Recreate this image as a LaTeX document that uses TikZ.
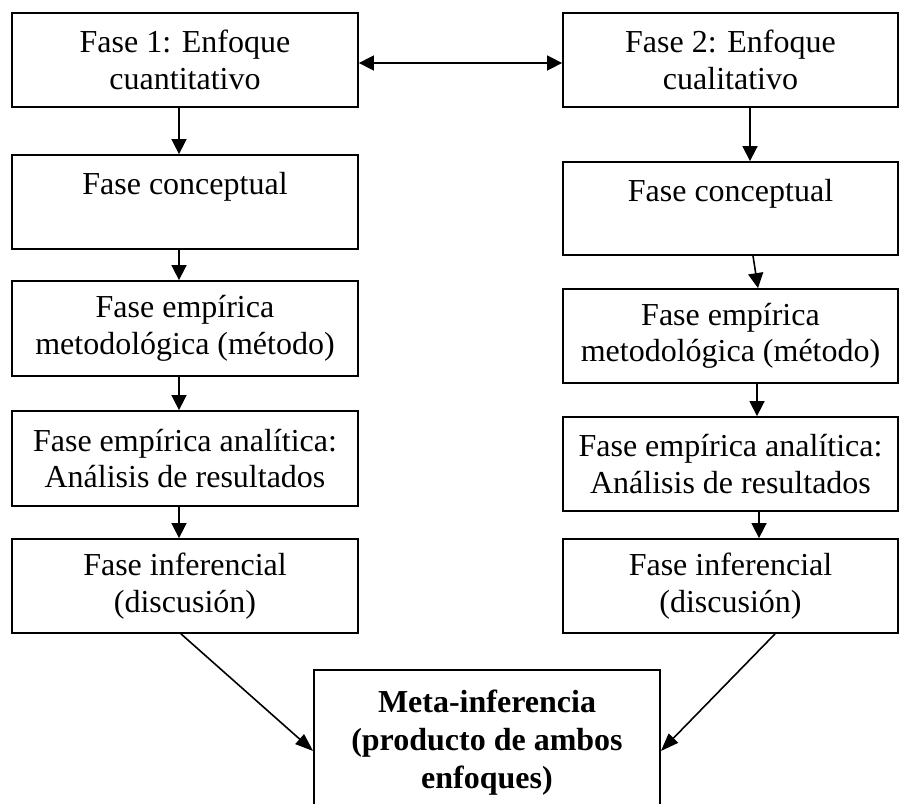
\documentclass[tikz,border=0pt]{standalone}
\usepackage{fontspec}
\setmainfont{Liberation Serif}
\usetikzlibrary{arrows.meta}
\begin{document}
\begin{tikzpicture}[x=1pt,y=-1pt,
  stage/.style={draw, line width=1.8pt, align=center, inner sep=0pt,
    font=\fontsize{32}{36.5}\selectfont},
  leftcol/.style={stage, minimum width=346pt},
  rightcol/.style={stage, minimum width=335pt},
  flow/.style={line width=1.6pt, -{Triangle[length=15pt,width=15pt]}},
  both/.style={line width=1.6pt, {Triangle[length=15pt,width=15pt]}-{Triangle[length=15pt,width=15pt]}},
  merge/.style={line width=1.6pt, -{Triangle[length=18pt,width=13pt]}}]
\useasboundingbox (0,0) rectangle (899,803);
\clip (0,0) rectangle (899,803);

% quantitative strand
\node[leftcol, minimum height=94pt] (L1) at (185,60) {Fase 1: Enfoque\\cuantitativo};
\node[leftcol, minimum height=94pt] (L2) at (185,202) {Fase conceptual\\~};
\node[leftcol, minimum height=95pt] (L3) at (185,328.5) {Fase empírica\\metodológica (método)};
\node[leftcol, minimum height=95pt] (L4) at (185,458.5) {Fase empírica analítica:\\Análisis de resultados};
\node[leftcol, minimum height=94pt] (L5) at (185,586) {Fase inferencial\\(discusión)};

% qualitative strand
\node[rightcol, minimum height=94pt] (R1) at (730.5,60) {Fase 2: Enfoque\\cualitativo};
\node[rightcol, minimum height=93pt] (R2) at (730.5,208.5) {Fase conceptual\\~};
\node[rightcol, minimum height=94pt] (R3) at (730.5,336) {Fase empírica\\metodológica (método)};
\node[rightcol, minimum height=94pt] (R4) at (730.5,464) {Fase empírica analítica:\\Análisis de resultados};
\node[rightcol, minimum height=94pt] (R5) at (730.5,586) {Fase inferencial\\(discusión)};

% combined result
\node[stage, minimum width=346pt, minimum height=145pt,
  font=\fontsize{32}{38}\selectfont\bfseries] (M) at (487,742.5)
  {Meta-inferencia\\(producto de ambos\\enfoques)};

% connectors
\draw[both] ([yshift=-3pt]L1.east) -- ([yshift=-3pt]R1.west);

\draw[flow] ([xshift=-6pt]L1.south) -- ([xshift=-6pt]L2.north);
\draw[flow] ([xshift=-6pt]L2.south) -- ([xshift=-6pt]L3.north);
\draw[flow] ([xshift=-6pt]L3.south) -- ([xshift=-6pt]L4.north);
\draw[flow] ([xshift=-6pt]L4.south) -- ([xshift=-6pt]L5.north);

\draw[flow] ([xshift=19.5pt]R1.south) -- ([xshift=19.5pt]R2.north);
\draw[flow] ([xshift=22.5pt]R2.south) -- ([xshift=27.5pt]R3.north);
\draw[flow] ([xshift=26.5pt]R3.south) -- ([xshift=26.5pt]R4.north);
\draw[flow] ([xshift=28.5pt]R4.south) -- ([xshift=28.5pt]R5.north);

\draw[merge] ([xshift=-4pt]L5.south) -- ([yshift=-8.5pt]M.west);
\draw[merge] ([xshift=44.5pt]R5.south) -- ([yshift=-8.5pt]M.east);
\end{tikzpicture}
\end{document}
